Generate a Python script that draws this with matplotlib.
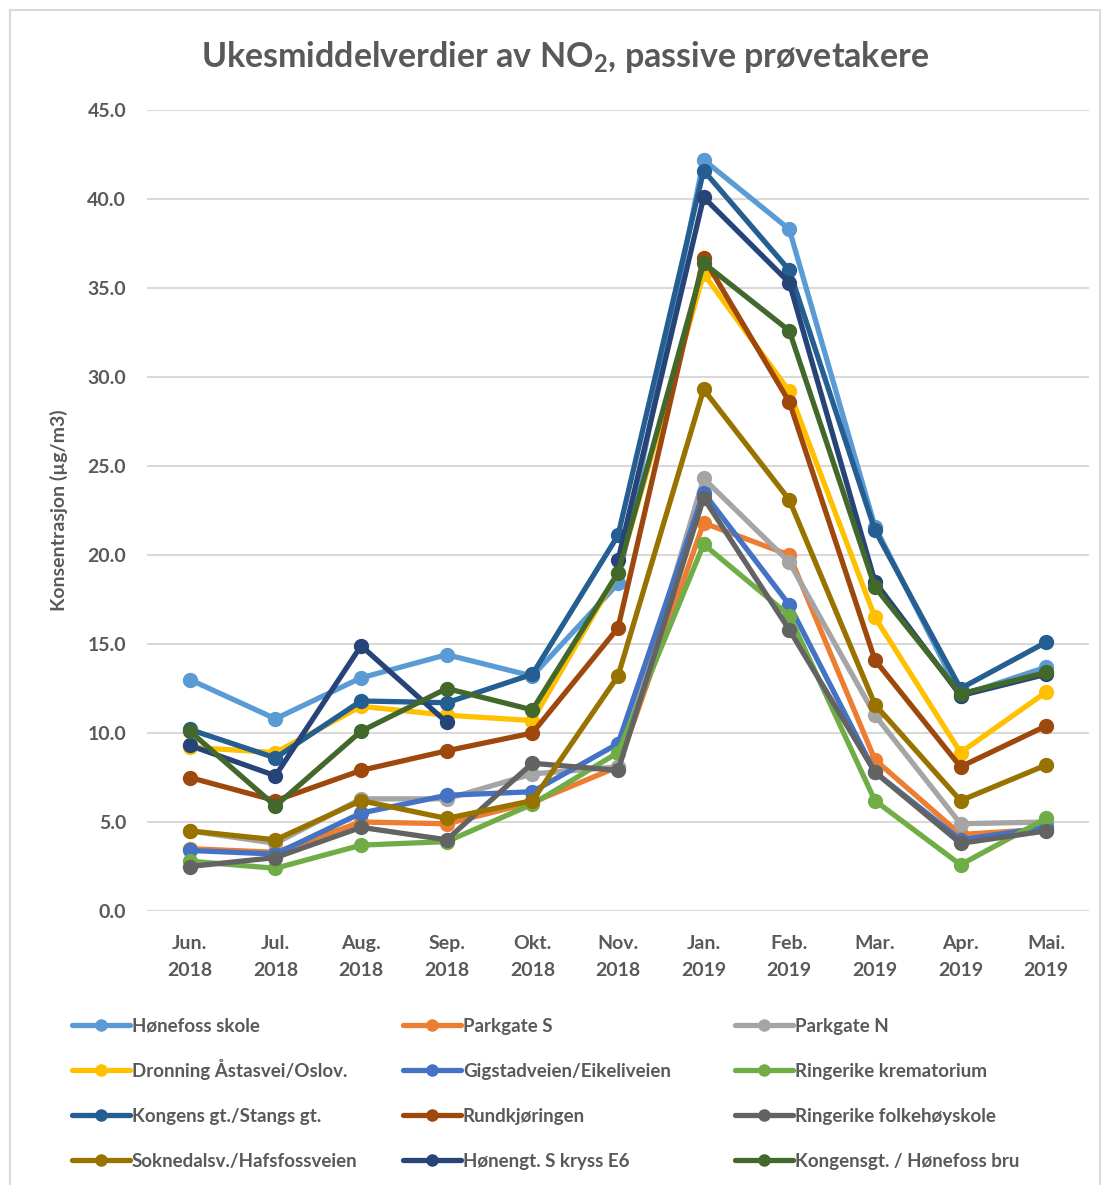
import numpy as np
import matplotlib
matplotlib.use("Agg")
import matplotlib.pyplot as plt
from matplotlib.patches import Rectangle
from matplotlib.lines import Line2D

plt.rcParams['font.family'] = ['Lato', 'DejaVu Sans']
plt.rcParams['font.weight'] = 'bold'
plt.rcParams['mathtext.fontset'] = 'custom'
plt.rcParams['mathtext.rm'] = 'Lato:bold'
plt.rcParams['mathtext.it'] = 'Lato:bold'
plt.rcParams['mathtext.bf'] = 'Lato:bold'
plt.rcParams['mathtext.default'] = 'rm'

months = ["Jun.\n2018", "Jul.\n2018", "Aug.\n2018", "Sep.\n2018", "Okt.\n2018", "Nov.\n2018",
          "Jan.\n2019", "Feb.\n2019", "Mar.\n2019", "Apr.\n2019", "Mai.\n2019"]

honefoss_skole = [13.0, 10.8, 13.1, 14.4, 13.2, 18.4, 42.2, 38.3, 21.6, 12.1, 13.7]
parkgate_s = [3.5, 3.3, 5.0, 4.9, 6.1, 8.1, 21.8, 20.0, 8.5, 4.3, 4.6]
parkgate_n = [4.5, 3.8, 6.3, 6.3, 7.7, 8.1, 24.3, 19.6, 11.0, 4.9, 5.0]
dronning = [9.2, 8.9, 11.5, 11.0, 10.7, 19.0, 35.8, 29.2, 16.5, 8.9, 12.3]
gigstad = [3.4, 3.2, 5.5, 6.5, 6.7, 9.4, 23.5, 17.2, 7.8, 4.0, 4.7]
krematorium = [2.8, 2.4, 3.7, 3.9, 6.0, 8.9, 20.6, 16.6, 6.2, 2.6, 5.2]
kongens_stangs = [10.2, 8.6, 11.8, 11.7, 13.3, 21.1, 41.6, 36.0, 21.4, 12.5, 15.1]
rundkjoringen = [7.5, 6.2, 7.9, 9.0, 10.0, 15.9, 36.7, 28.6, 14.1, 8.1, 10.4]
folkehoyskole = [2.5, 3.0, 4.7, 4.0, 8.3, 7.9, 23.2, 15.8, 7.8, 3.8, 4.5]
soknedal = [4.5, 4.0, 6.2, 5.2, 6.2, 13.2, 29.3, 23.1, 11.6, 6.2, 8.2]
honengt = [9.3, 7.6, 14.9, 10.6, np.nan, 19.7, 40.1, 35.3, 18.5, 12.1, 13.3]
kongensgt_bru = [10.1, 5.9, 10.1, 12.5, 11.3, 19.0, 36.4, 32.6, 18.2, 12.2, 13.4]

series = [
    ("Hønefoss skole", honefoss_skole, "#5B9BD5"),
    ("Parkgate S", parkgate_s, "#ED7D31"),
    ("Parkgate N", parkgate_n, "#A5A5A5"),
    ("Dronning Åstasvei/Oslov.", dronning, "#FFC000"),
    ("Gigstadveien/Eikeliveien", gigstad, "#4472C4"),
    ("Ringerike krematorium", krematorium, "#70AD47"),
    ("Kongens gt./Stangs gt.", kongens_stangs, "#255E91"),
    ("Rundkjøringen", rundkjoringen, "#9E480E"),
    ("Ringerike folkehøyskole", folkehoyskole, "#636363"),
    ("Soknedalsv./Hafsfossveien", soknedal, "#997300"),
    ("Hønengt. S kryss E6", honengt, "#264478"),
    ("Kongensgt. / Hønefoss bru", kongensgt_bru, "#43682B"),
]

text_color = "#595959"
grid_color = "#D9D9D9"
W, H = 1105, 1185

fig = plt.figure(figsize=(W / 100, H / 100), dpi=100)
ax = fig.add_axes([147 / W, 1 - 911 / H, 942 / W, 801 / H])

x = np.arange(len(months))
for name, vals, col in series:
    ax.plot(x, vals, color=col, lw=3.8, marker='o', ms=10, label=name,
            solid_joinstyle='round', solid_capstyle='round')

ax.set_xlim(-0.5, len(months) - 0.5)
ax.set_ylim(0, 45)
ax.set_yticks(np.arange(0, 46, 5))
ax.set_yticklabels([f"{v:.1f}" for v in np.arange(0, 46, 5)])
ax.set_xticks(x)
ax.set_xticklabels(months, linespacing=1.75)
ax.tick_params(axis='both', length=0, labelsize=14, labelcolor=text_color)
ax.tick_params(axis='x', pad=17)
ax.tick_params(axis='y', pad=15)
ax.grid(axis='y', color=grid_color, lw=1.5)
ax.set_axisbelow(True)
for s in ax.spines.values():
    s.set_visible(False)

ax.set_ylabel("Konsentrasjon (µg/m3)", fontsize=14, color=text_color,
              fontweight='bold', labelpad=14)

fig.text(0.511, 1 - 57 / H, r"Ukesmiddelverdier av NO$_2$, passive prøvetakere",
         ha='center', va='center', fontsize=24.5, color=text_color, fontweight='bold')

# legend, laid out row by row like the original
col_x = [72, 403, 735]
row_y = [1025, 1070, 1115, 1160]
for i, (name, vals, col) in enumerate(series):
    r, c = divmod(i, 3)
    x0 = col_x[c]
    y0 = 1 - row_y[r] / H
    fig.add_artist(Line2D([x0 / W, (x0 + 58) / W], [y0, y0], transform=fig.transFigure,
                          color=col, lw=3.8, solid_capstyle='round'))
    fig.add_artist(Line2D([(x0 + 29) / W], [y0], transform=fig.transFigure,
                          color=col, marker='o', ms=8, lw=0))
    fig.text((x0 + 60) / W, 1 - (row_y[r] + 7) / H, name, ha='left', va='baseline',
             fontsize=13.5, color=text_color, fontweight='bold')

fig.patches.append(Rectangle((10 / W, -0.01), 1090 / W, 1 - 10 / H + 0.01,
                             transform=fig.transFigure, fill=False,
                             edgecolor=grid_color, lw=1.5))

fig.savefig("out.png", dpi=100)
